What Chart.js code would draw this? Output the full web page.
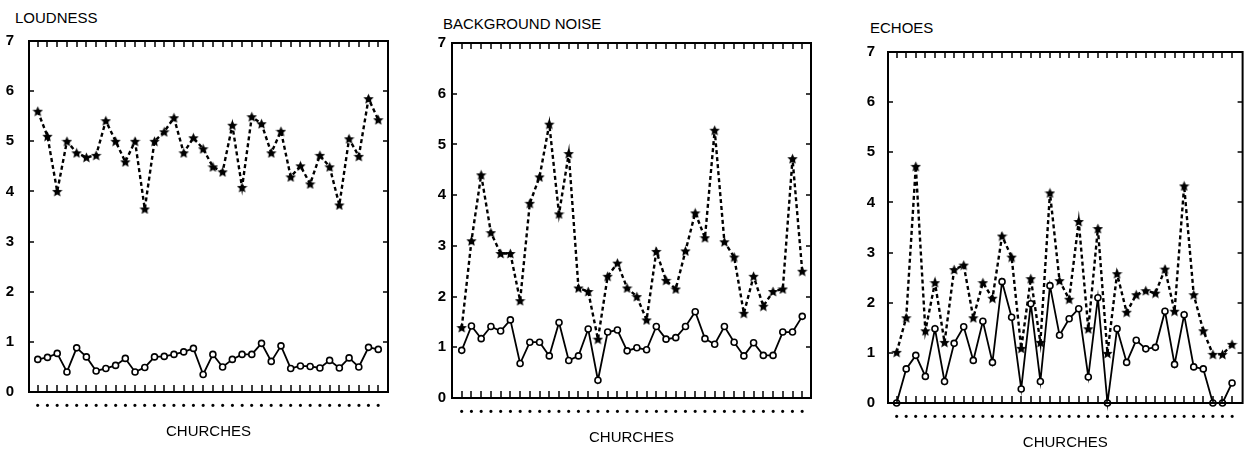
<!DOCTYPE html>
<html>
<head>
<meta charset="utf-8">
<script src="https://cdn.jsdelivr.net/npm/chart.js@4/dist/chart.umd.min.js"></script>
<style>
  html, body { margin:0; padding:0; background:#fff; width:1244px; height:454px; overflow:hidden; position:relative; }
  canvas { position:absolute; top:0; }
  .ttl { position:absolute; font-family:"Liberation Sans", Arial, sans-serif; font-size:15px; line-height:15px; color:#000; white-space:nowrap; }
</style>
</head>
<body>
<div class="ttl" id="t1" style="left:15px; top:10px;"></div>
<div class="ttl" id="t2" style="left:443px; top:16px;"></div>
<div class="ttl" id="t3" style="left:870px; top:20px;"></div>
<canvas id="c1" style="left:0px;" width="400" height="454"></canvas>
<canvas id="c2" style="left:432px;" width="395" height="454"></canvas>
<canvas id="c3" style="left:858px;" width="392" height="454"></canvas>
<script>
// ---- data ----
const CHURCHES = [1,2,3,4,5,6,7,8,9,10,11,12,13,14,15,16,17,18,19,20,21,22,23,24,25,26,27,28,29,30,31,32,33,34,35,36];
const Y_TICKS = [0,1,2,3,4,5,6,7];
const PANEL_TITLES = ["LOUDNESS", "BACKGROUND NOISE", "ECHOES"];
const X_TITLE = "CHURCHES";

const LOUD_STARS = [5.6,5.1,4.0,5.0,4.77,4.68,4.72,5.41,5.0,4.59,5.0,3.65,5.0,5.19,5.47,4.77,5.07,4.85,4.49,4.39,5.32,4.08,5.49,5.35,4.77,5.2,4.29,4.51,4.15,4.72,4.49,3.73,5.05,4.7,5.85,5.43];
const LOUD_CIRCLES = [0.65,0.69,0.77,0.4,0.88,0.7,0.42,0.47,0.53,0.67,0.4,0.49,0.7,0.71,0.75,0.8,0.87,0.35,0.75,0.5,0.65,0.75,0.75,0.97,0.61,0.92,0.47,0.52,0.51,0.48,0.63,0.48,0.68,0.5,0.89,0.85];

const NOISE_STARS = [1.39,3.1,4.4,3.26,2.85,2.85,1.92,3.84,4.36,5.4,3.63,4.82,2.17,2.1,1.16,2.4,2.66,2.17,2.0,1.54,2.89,2.32,2.15,2.9,3.65,3.16,5.28,3.08,2.78,1.67,2.4,1.81,2.1,2.15,4.72,2.5];
const NOISE_CIRCLES = [0.94,1.42,1.17,1.41,1.32,1.54,0.68,1.1,1.1,0.83,1.49,0.74,0.83,1.36,0.35,1.3,1.34,0.93,0.99,0.95,1.41,1.16,1.19,1.41,1.7,1.17,1.06,1.41,1.1,0.83,1.09,0.84,0.84,1.3,1.3,1.61];

const ECHO_STARS = [1.01,1.7,4.72,1.44,2.4,1.21,2.66,2.75,1.7,2.4,2.09,3.33,2.91,1.09,2.48,1.21,4.19,2.44,2.07,3.62,1.48,3.48,0.99,2.58,1.81,2.16,2.24,2.19,2.67,1.83,4.33,2.16,1.44,0.97,0.97,1.17];
const ECHO_CIRCLES = [0,0.68,0.95,0.53,1.48,0.43,1.19,1.52,0.85,1.63,0.81,2.42,1.71,0.28,1.98,0.43,2.34,1.35,1.68,1.88,0.52,2.1,0,1.48,0.81,1.25,1.08,1.11,1.83,0.77,1.76,0.72,0.68,0,0,0.4];

// ---- styling helpers ----
const FONT = '"Liberation Sans", Arial, sans-serif';
document.getElementById('t1').textContent = PANEL_TITLES[0];
document.getElementById('t2').textContent = PANEL_TITLES[1];
document.getElementById('t3').textContent = PANEL_TITLES[2];

function makeStar(size) {
  const c = document.createElement('canvas');
  c.width = size; c.height = size;
  const g = c.getContext('2d');
  const cx = size/2, cy = size/2 + 0.5, R = size/2, r = R*0.47;
  g.beginPath();
  for (let i = 0; i < 10; i++) {
    const a = -Math.PI/2 + i*Math.PI/5;
    const rad = i % 2 === 0 ? R : r;
    const x = cx + rad*Math.cos(a), y = cy + rad*Math.sin(a);
    if (i === 0) g.moveTo(x, y); else g.lineTo(x, y);
  }
  g.closePath();
  g.fillStyle = '#000';
  g.fill();
  return c;
}
const STAR = makeStar(11);

const framePlugin = {
  id: 'frame',
  afterDraw(chart) {
    const ctx = chart.ctx;
    const a = chart.chartArea;
    const xs = chart.scales.x, ys = chart.scales.y;
    ctx.save();
    ctx.setLineDash([]);
    ctx.fillStyle = '#000';
    // inner tick marks (drawn as thin rectangles)
    for (const c of CHURCHES) {
      const px = Math.round(xs.getPixelForValue(c));
      ctx.fillRect(px - 0.75, a.bottom - 7, 1.5, 7);
      ctx.fillRect(px - 0.75, a.top, 1.5, 6);
    }
    for (const v of Y_TICKS) {
      const py = Math.round(ys.getPixelForValue(v));
      ctx.fillRect(a.left, py - 0.75, 5, 1.5);
      ctx.fillRect(a.right - 5, py - 0.75, 5, 1.5);
    }
    // frame
    ctx.strokeStyle = '#000';
    ctx.lineWidth = 2;
    ctx.strokeRect(a.left, a.top, a.right - a.left, a.bottom - a.top);
    ctx.restore();
  }
};

function makeChart(id, stars, circles, cfg) {
  const starPts = CHURCHES.map((c, i) => ({x: c, y: stars[i]}));
  const circPts = CHURCHES.map((c, i) => ({x: c, y: circles[i]}));
  return new Chart(document.getElementById(id), {
    type: 'line',
    data: {
      datasets: [
        {
          data: starPts,
          borderColor: '#000',
          borderWidth: 2.4,
          borderDash: [4, 3],
          pointStyle: STAR,
          pointRadius: 5,
          pointHoverRadius: 5,
          tension: 0,
          clip: false
        },
        {
          data: circPts,
          borderColor: '#000',
          borderWidth: 1.8,
          pointStyle: 'circle',
          pointRadius: 3,
          pointBorderWidth: 1.6,
          pointBackgroundColor: '#fff',
          pointBorderColor: '#000',
          tension: 0,
          clip: false
        }
      ]
    },
    options: {
      responsive: false,
      animation: false,
      events: [],
      layout: { padding: { top: cfg.top, right: cfg.right, bottom: 0, left: 0 } },
      plugins: { legend: { display: false }, tooltip: { enabled: false } },
      scales: {
        x: {
          type: 'linear',
          min: cfg.xmin,
          max: cfg.xmax,
          grid: { display: false, drawTicks: false },
          border: { display: false },
          afterBuildTicks: s => { s.ticks = CHURCHES.map(v => ({value: v})); },
          afterFit: s => { s.height = cfg.xh; },
          ticks: {
            autoSkip: false,
            maxRotation: 0,
            padding: 7,
            color: '#000',
            font: { family: FONT, size: 11, weight: 'bold' },
            callback: () => '\u2022'
          },
          title: {
            display: true,
            text: X_TITLE,
            color: '#000',
            font: { family: FONT, size: 15 },
            padding: { top: 0, bottom: cfg.tpad }
          }
        },
        y: {
          min: 0,
          max: 7,
          grid: { display: false, drawTicks: false },
          border: { display: false },
          afterBuildTicks: s => { s.ticks = Y_TICKS.map(v => ({value: v})); },
          afterFit: s => { s.width = cfg.yw; },
          ticks: {
            padding: cfg.ypad,
            color: '#000',
            font: { family: FONT, size: 15, weight: 'bold' }
          }
        }
      }
    },
    plugins: [framePlugin]
  });
}

// canvas 1 at left 0: plot 29..388, 41..392
makeChart('c1', LOUD_STARS, LOUD_CIRCLES, { top: 41, right: 12, xh: 62, yw: 29, ypad: 15, xmin: 0.1, xmax: 37.0, tpad: 13 });
// canvas 2 at left 432: plot 452..811, 43..398
makeChart('c2', NOISE_STARS, NOISE_CIRCLES, { top: 43, right: 16, xh: 56, yw: 20, ypad: 6, xmin: 0.0, xmax: 36.9, tpad: 7 });
// canvas 3 at left 858: plot 888..1247, 52..403
makeChart('c3', ECHO_STARS, ECHO_CIRCLES, { top: 52, right: 3, xh: 51, yw: 30, ypad: 13, xmin: 0.1, xmax: 37.1, tpad: 2 });
</script>
</body>
</html>
